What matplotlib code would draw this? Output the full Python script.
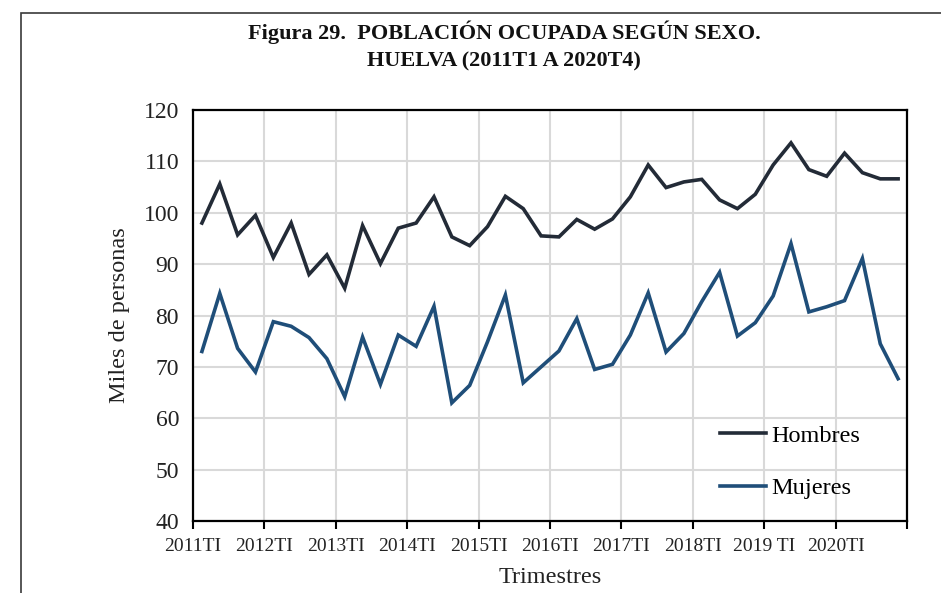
import matplotlib

matplotlib.use("Agg")

import matplotlib.pyplot as plt
from matplotlib.patches import Rectangle

# Población ocupada (miles de personas), trimestres 2011T1 .. 2020T4
hombres = [
    98.0, 105.6, 95.7, 99.5, 91.3, 98.0, 88.0, 91.8, 85.3, 97.5,
    90.1, 97.0, 98.0, 103.1, 95.3, 93.6, 97.3, 103.2, 100.8, 95.5,
    95.3, 98.7, 96.8, 98.8, 103.1, 109.3, 104.9, 106.0, 106.5, 102.5,
    100.8, 103.6, 109.3, 113.6, 108.4, 107.1, 111.6, 107.8, 106.6, 106.6,
]
mujeres = [
    73.0, 84.3, 73.6, 69.0, 78.8, 77.9, 75.7, 71.6, 64.2, 75.8,
    66.6, 76.2, 74.0, 81.8, 63.0, 66.4, 74.9, 84.0, 66.9, 70.0,
    73.1, 79.4, 69.5, 70.5, 76.2, 84.4, 72.9, 76.5, 82.7, 88.4,
    76.0, 78.6, 83.8, 94.0, 80.7, 81.7, 82.9, 91.1, 74.5, 67.7,
]
tick_labels = [
    "2011TI", "2012TI", "2013TI", "2014TI", "2015TI",
    "2016TI", "2017TI", "2018TI", "2019 TI", "2020TI", "",
]

plt.rcParams["font.family"] = ["Liberation Serif", "DejaVu Serif"]

fig = plt.figure(figsize=(9.41, 5.93), dpi=100)
ax = fig.add_axes([0.2051, 0.1214, 0.7588, 0.6931])

# outer frame of the figure (only top and left edges fall inside the picture)
fig.patches.append(
    Rectangle((21 / 941, -0.05), 1.0, 1 - 13 / 593 + 0.05, transform=fig.transFigure,
              fill=False, edgecolor="#3a3a3a", linewidth=1.2)
)

x = [i + 0.5 for i in range(len(hombres))]
ax.plot(x, hombres, color="#232b37", linewidth=2.6, label="Hombres", solid_joinstyle="miter")
ax.plot(x, mujeres, color="#1f4e79", linewidth=2.6, label="Mujeres", solid_joinstyle="miter")

ax.set_xlim(0, 40)
ax.set_ylim(40, 120)
ax.set_xticks(range(0, 41, 4))
ax.set_xticklabels(tick_labels, fontsize=14, color="#222222")
ax.set_yticks(range(40, 121, 10))
ax.tick_params(axis="y", length=0, labelsize=17, pad=10, labelcolor="#222222")
ax.tick_params(axis="x", length=6, width=1.5, direction="out", pad=6)

ax.grid(color="#d9d9d9", linewidth=1.5)
ax.set_axisbelow(True)
for spine in ax.spines.values():
    spine.set_color("black")
    spine.set_linewidth(1.6)

ax.set_ylabel("Miles de personas", fontsize=17.5, labelpad=10, color="#222222")
ax.set_xlabel("Trimestres", fontsize=17.5, labelpad=9, color="#222222")

fig.text(0.536, 0.946, "Figura 29.  POBLACIÓN OCUPADA SEGÚN SEXO.", ha="center", va="center",
         fontsize=16, fontweight="bold", color="#111111")
fig.text(0.536, 0.897, "HUELVA (2011T1 A 2020T4)", ha="center", va="center",
         fontsize=16, fontweight="bold", color="#111111")

ax.legend(loc="lower right", bbox_to_anchor=(0.965, 0.0), frameon=False, fontsize=17.5,
          handlelength=1.9, handletextpad=0.2, labelspacing=1.25)

fig.savefig("out.png", dpi=100, facecolor="white")
